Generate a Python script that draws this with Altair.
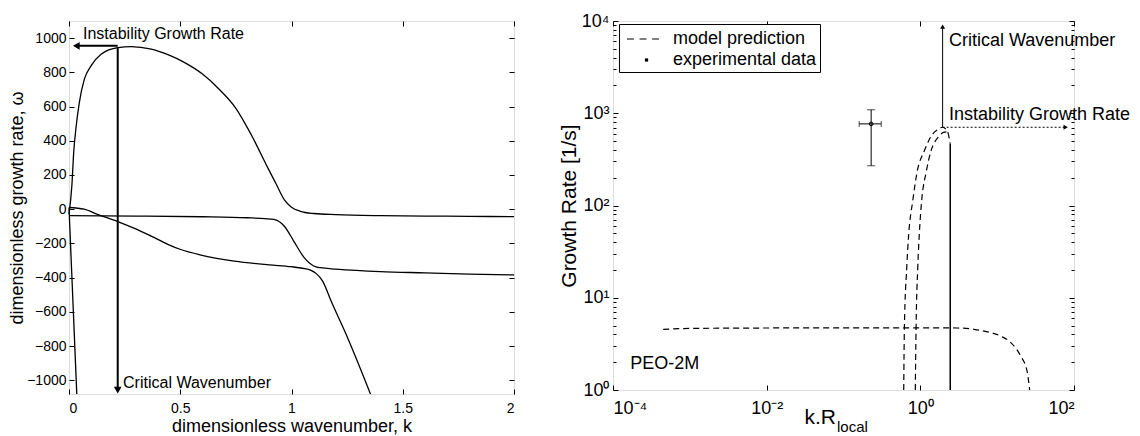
import altair as alt
import pandas as pd

FONT = "Liberation Sans"

# ---------------- Left panel data (linear axes) ----------------
kA = [0, 0.013, 0.021, 0.031, 0.046, 0.069, 0.099, 0.144, 0.22, 0.28, 0.37, 0.45, 0.52, 0.6,
      0.668, 0.75, 0.818, 0.893, 0.93, 0.968, 1.0, 1.04, 1.1, 1.2, 1.4, 1.6, 1.8, 2.0]
wA = [-30, 140, 330, 470, 620, 760, 838, 906, 945, 950, 935, 900, 857, 790,
      710, 590, 438, 243, 150, 55, 12, -12, -25, -32, -38, -40, -42, -43]

kB = [0, 0.3, 0.6, 0.8, 0.88, 0.92, 0.967, 1.01, 1.057, 1.1, 1.13, 1.2, 1.4, 1.6, 1.8, 2.0]
wB = [-38, -40, -44, -50, -55, -60, -98, -186, -283, -332, -342, -350, -365, -372, -379, -384]

kC = [0, 0.068, 0.128, 0.219, 0.3, 0.369, 0.444, 0.499, 0.593, 0.743, 0.9, 0.998, 1.05,
      1.088, 1.11, 1.14, 1.178, 1.252, 1.355]
wC = [10, 0, -30, -72, -115, -157, -205, -234, -268, -303, -325, -336, -345,
      -357, -375, -420, -537, -751, -1080]

kD = [0, 0.035]
wD = [10, -1080]

crit_k = 0.219          # critical wavenumber (left)
peak_w = 955            # instability growth rate (left)
crit_k_head = -1057     # arrow head level
left_head_k = 0.045

left_text_k = [0.063, 0.243]
left_text_w = [1024, -1014]
left_text = ["Instability Growth Rate", "Critical Wavenumber"]

# ---------------- Right panel data (log-log) ----------------
outer_x = [0.608, 0.62, 0.665, 0.706, 0.796, 0.906, 1.13, 1.45, 1.7, 1.95, 2.15, 2.31, 2.45]
outer_y = [1, 4.7, 21, 49, 112, 229, 394, 597, 670, 705, 670, 597, 465]
inner_x = [0.86, 0.88, 0.925, 0.97, 1.04, 1.19, 1.38, 1.71, 2.0, 2.25]
inner_y = [1, 4.7, 21, 49, 112, 229, 394, 550, 620, 630]
flat_x = [4.5e-4, 1e-3, 1e-2, 0.1, 1, 3, 5, 7.5, 11.2, 15.2, 20.3, 24.5, 26.5]
flat_y = [4.55, 4.65, 4.7, 4.72, 4.72, 4.7, 4.55, 4.27, 3.83, 3.24, 2.32, 1.6, 1.0]
solid_x = [2.45, 2.45]
solid_y = [465, 1]

exp_x = [0.229]
exp_y = [767]
exp_x_lo = [0.16]
exp_x_hi = [0.31]
exp_y_lo = [270]
exp_y_hi = [1090]

crit_x = 1.95
growth_y = 705
top_head_y = 8700
right_head_x = 78

right_text_x = [2.36, 2.36, 1.68e-4]
right_text_y = [6030, 950, 1.9]
right_text = ["Critical Wavenumber", "Instability Growth Rate", "PEO-2M"]

legend_labels = ["model prediction", "experimental data"]


def ax(orient, values, labels=True, title=None, size=5, fs=14, fmt=None, expr=None,
       tpad=2, lpad=3, tfs=18):
    kw = dict(orient=orient, values=values, tickSize=size, offset=-size, domain=False,
              grid=False, labels=labels, tickColor="black", tickWidth=1,
              labelColor="black", labelFont=FONT, labelFontSize=fs, labelPadding=lpad,
              titleFont=FONT, titleFontSize=tfs, titleFontWeight="normal",
              titleColor="black", titlePadding=tpad, title=title)
    if fmt:
        kw["format"] = fmt
    if expr:
        kw["labelExpr"] = expr
    return alt.Axis(**kw)


# ---------------- Left chart ----------------
left_lines = pd.concat([
    pd.DataFrame({"k": kA, "w": wA, "curve": "A"}),
    pd.DataFrame({"k": kB, "w": wB, "curve": "B"}),
    pd.DataFrame({"k": kC, "w": wC, "curve": "C"}),
    pd.DataFrame({"k": kD, "w": wD, "curve": "D"}),
])
xsL = alt.Scale(domain=[0, 2], nice=False, zero=False)
ysL = alt.Scale(domain=[-1080, 1100], nice=False, zero=False)
kticks = [0, 0.5, 1, 1.5, 2]
wticks = list(range(-1000, 1001, 200))

L_lines = alt.Chart(left_lines).mark_line(color="black", strokeWidth=1.3, interpolate="monotone").encode(
    x=alt.X("k:Q", scale=xsL, axis=ax("bottom", kticks, title="dimensionless wavenumber, k", fmt="~g", lpad=7)),
    y=alt.Y("w:Q", scale=ysL, axis=ax("left", wticks, title="dimensionless growth rate, ω", fmt="d", lpad=3, tpad=0)),
    detail="curve:N",
)
L_mirror = alt.Chart(left_lines).mark_line(opacity=0).encode(
    x=alt.X("k:Q", scale=xsL, axis=ax("top", kticks, labels=False)),
    y=alt.Y("w:Q", scale=ysL, axis=ax("right", wticks, labels=False)),
    detail="curve:N",
)
arr_df = pd.DataFrame({
    "k": [crit_k, crit_k, crit_k, left_head_k],
    "w": [peak_w - 8, crit_k_head, peak_w, peak_w],
    "id": ["v", "v", "h", "h"],
})
L_arrows = alt.Chart(arr_df).mark_line(color="black", strokeWidth=2).encode(
    x=alt.X("k:Q", scale=xsL, axis=None),
    y=alt.Y("w:Q", scale=ysL, axis=None),
    detail="id:N",
)
L_head_down = alt.Chart(pd.DataFrame({"k": [crit_k], "w": [crit_k_head]})).mark_point(
    shape="triangle-down", filled=True, color="black", opacity=1, size=60).encode(
    x=alt.X("k:Q", scale=xsL, axis=None), y=alt.Y("w:Q", scale=ysL, axis=None))
L_head_left = alt.Chart(pd.DataFrame({"k": [left_head_k - 0.012], "w": [peak_w]})).mark_point(
    shape="triangle-left", filled=True, color="black", opacity=1, size=60).encode(
    x=alt.X("k:Q", scale=xsL, axis=None), y=alt.Y("w:Q", scale=ysL, axis=None))
ltxt_df = pd.DataFrame({"k": left_text_k, "w": left_text_w, "t": left_text})
L_text = alt.Chart(ltxt_df).mark_text(align="left", baseline="middle", font=FONT, fontSize=16, color="black").encode(
    x=alt.X("k:Q", scale=xsL, axis=None),
    y=alt.Y("w:Q", scale=ysL, axis=None),
    text="t:N",
)
left = alt.layer(L_lines, L_mirror, L_arrows, L_head_down, L_head_left, L_text).resolve_axis(
    x="independent", y="independent").properties(width=445, height=373)

# ---------------- Right chart ----------------
right_lines = pd.concat([
    pd.DataFrame({"x": outer_x, "y": outer_y, "curve": "outer"}),
    pd.DataFrame({"x": inner_x, "y": inner_y, "curve": "inner"}),
    pd.DataFrame({"x": flat_x, "y": flat_y, "curve": "flat"}),
])
xsR = alt.Scale(type="log", domain=[1e-4, 100], nice=False)
ysR = alt.Scale(type="log", domain=[1, 1e4], nice=False)
xmaj = [1e-4, 1e-2, 1, 100]
ymaj = [1, 10, 100, 1000, 10000]
ymin = [m * d for d in [1, 10, 100, 1000] for m in range(2, 10)]
xexpr = ("datum.value < 0.001 ? '10⁻⁴' : datum.value < 0.1 ? '10⁻²' : "
         "datum.value < 10 ? '10⁰' : '10²'")
yexpr = ("datum.value < 5 ? '10⁰' : datum.value < 50 ? '10¹' : datum.value < 500 ? '10²' : "
         "datum.value < 5000 ? '10³' : '10⁴'")

R_lines = alt.Chart(right_lines).mark_line(color="black", strokeWidth=1.2, strokeDash=[6, 4],
                                          interpolate="monotone").encode(
    x=alt.X("x:Q", scale=xsR, axis=ax("bottom", xmaj, title=None, fs=18, expr=xexpr, lpad=9)),
    y=alt.Y("y:Q", scale=ysR, axis=ax("left", ymaj, title="Growth Rate [1/s]", fs=18, expr=yexpr,
                                      lpad=4, tpad=2, tfs=21)),
    detail="curve:N",
)
R_mirror = alt.Chart(right_lines).mark_line(opacity=0).encode(
    x=alt.X("x:Q", scale=xsR, axis=ax("top", xmaj, labels=False)),
    y=alt.Y("y:Q", scale=ysR, axis=ax("right", ymaj, labels=False)),
    detail="curve:N",
)
R_minor_l = alt.Chart(right_lines).mark_line(opacity=0).encode(
    x=alt.X("x:Q", scale=xsR, axis=None),
    y=alt.Y("y:Q", scale=ysR, axis=ax("left", ymin, labels=False, size=3)),
    detail="curve:N",
)
R_minor_r = alt.Chart(right_lines).mark_line(opacity=0).encode(
    x=alt.X("x:Q", scale=xsR, axis=None),
    y=alt.Y("y:Q", scale=ysR, axis=ax("right", ymin, labels=False, size=3)),
    detail="curve:N",
)
solid_df = pd.DataFrame({"x": solid_x, "y": solid_y})
R_solid = alt.Chart(solid_df).mark_line(color="black", strokeWidth=1.5).encode(
    x=alt.X("x:Q", scale=xsR, axis=None),
    y=alt.Y("y:Q", scale=ysR, axis=None),
)
exp_df = pd.DataFrame({"x": exp_x, "y": exp_y, "xlo": exp_x_lo, "xhi": exp_x_hi,
                       "ylo": exp_y_lo, "yhi": exp_y_hi, "series": ["experimental data"]})
R_ebar_v = alt.Chart(exp_df).mark_rule(color="black", strokeWidth=1).encode(
    x=alt.X("x:Q", scale=xsR, axis=None),
    y=alt.Y("ylo:Q", scale=ysR, axis=None), y2="yhi:Q",
)
R_ebar_h = alt.Chart(exp_df).mark_rule(color="black", strokeWidth=1).encode(
    x=alt.X("xlo:Q", scale=xsR, axis=None), x2="xhi:Q",
    y=alt.Y("y:Q", scale=ysR, axis=None),
)
cap_v = pd.DataFrame({"x": exp_x * 2, "y": exp_y_lo + exp_y_hi})
cap_h = pd.DataFrame({"x": exp_x_lo + exp_x_hi, "y": exp_y * 2})
R_cap_v = alt.Chart(cap_v).mark_tick(orient="horizontal", color="black", size=8, thickness=1).encode(
    x=alt.X("x:Q", scale=xsR, axis=None), y=alt.Y("y:Q", scale=ysR, axis=None))
R_cap_h = alt.Chart(cap_h).mark_tick(orient="vertical", color="black", size=6, thickness=1).encode(
    x=alt.X("x:Q", scale=xsR, axis=None), y=alt.Y("y:Q", scale=ysR, axis=None))
R_point = alt.Chart(exp_df).mark_point(shape="circle", filled=False, color="black", size=14,
                                       strokeWidth=1, opacity=1).encode(
    x=alt.X("x:Q", scale=xsR, axis=None),
    y=alt.Y("y:Q", scale=ysR, axis=None),
)

# legend symbols (drawn by the legend only)
DASH_PATH = "M-0.61,-0.045H0V0.045H-0.61Z M0.48,-0.045H1.09V0.045H0.48Z M1.57,-0.045H2.17V0.045H1.57Z"
SQUARE_PATH = "M0.95,-0.14H1.23V0.14H0.95Z"
R_legend = alt.Chart(exp_df).mark_point(filled=True, color="black", size=529, opacity=0).encode(
    x=alt.X("x:Q", scale=xsR, axis=None),
    y=alt.Y("y:Q", scale=ysR, axis=None),
    shape=alt.Shape("series:N",
                    scale=alt.Scale(domain=legend_labels, range=[DASH_PATH, SQUARE_PATH]),
                    legend=alt.Legend(title=None, orient="none", legendX=6, legendY=3,
                                      strokeColor="black", fillColor="white", padding=3,
                                      cornerRadius=0, labelFont=FONT, labelFontSize=18,
                                      labelColor="black", labelOffset=27,
                                      symbolStrokeColor="black", symbolFillColor="black",
                                      symbolStrokeWidth=0.5, symbolOpacity=1,
                                      symbolSize=529, rowPadding=0)),
)
rarr_v = pd.DataFrame({"x": [crit_x, crit_x], "y": [growth_y, top_head_y]})
rarr_h = pd.DataFrame({"x": [crit_x, right_head_x], "y": [growth_y, growth_y]})
R_arr_v = alt.Chart(rarr_v).mark_line(color="black", strokeWidth=1).encode(
    x=alt.X("x:Q", scale=xsR, axis=None), y=alt.Y("y:Q", scale=ysR, axis=None))
R_arr_h = alt.Chart(rarr_h).mark_line(color="black", strokeWidth=1, strokeDash=[2, 2]).encode(
    x=alt.X("x:Q", scale=xsR, axis=None), y=alt.Y("y:Q", scale=ysR, axis=None))
R_head_up = alt.Chart(pd.DataFrame({"x": [crit_x], "y": [top_head_y]})).mark_point(
    shape="triangle-up", filled=True, color="black", opacity=1, size=25).encode(
    x=alt.X("x:Q", scale=xsR, axis=None), y=alt.Y("y:Q", scale=ysR, axis=None))
R_head_right = alt.Chart(pd.DataFrame({"x": [right_head_x], "y": [growth_y]})).mark_point(
    shape="triangle-right", filled=True, color="black", opacity=1, size=25).encode(
    x=alt.X("x:Q", scale=xsR, axis=None), y=alt.Y("y:Q", scale=ysR, axis=None))
rtxt_df = pd.DataFrame({"x": right_text_x, "y": right_text_y, "t": right_text})
R_text = alt.Chart(rtxt_df).mark_text(align="left", baseline="middle", font=FONT, fontSize=18, color="black").encode(
    x=alt.X("x:Q", scale=xsR, axis=None),
    y=alt.Y("y:Q", scale=ysR, axis=None),
    text="t:N",
)
# x-axis title with subscript: k.R_local
title_df = pd.DataFrame({"t": ["k.R"]})
sub_df = pd.DataFrame({"t": ["local"]})
R_xt = alt.Chart(title_df).mark_text(align="right", baseline="middle", font=FONT, fontSize=21, color="black").encode(
    x=alt.value(223), y=alt.value(397), text="t:N")
R_xs = alt.Chart(sub_df).mark_text(align="left", baseline="middle", font=FONT, fontSize=15, color="black").encode(
    x=alt.value(224), y=alt.value(406), text="t:N")

right = alt.layer(R_lines, R_mirror, R_minor_l, R_minor_r, R_solid, R_ebar_v, R_ebar_h,
                  R_cap_v, R_cap_h, R_point, R_legend, R_arr_v, R_arr_h, R_head_up, R_head_right,
                  R_text, R_xt, R_xs).resolve_axis(
    x="independent", y="independent").properties(width=461, height=369)

chart = alt.hconcat(left, right, spacing=99, bounds="flush").resolve_legend(
    shape="independent").configure_view(
    stroke="black", strokeWidth=1).properties(
    padding={"left": 0, "top": 3, "right": 0, "bottom": 0}).configure(font=FONT)

chart.save("out.html", embed_options={"renderer": "svg", "actions": False})
